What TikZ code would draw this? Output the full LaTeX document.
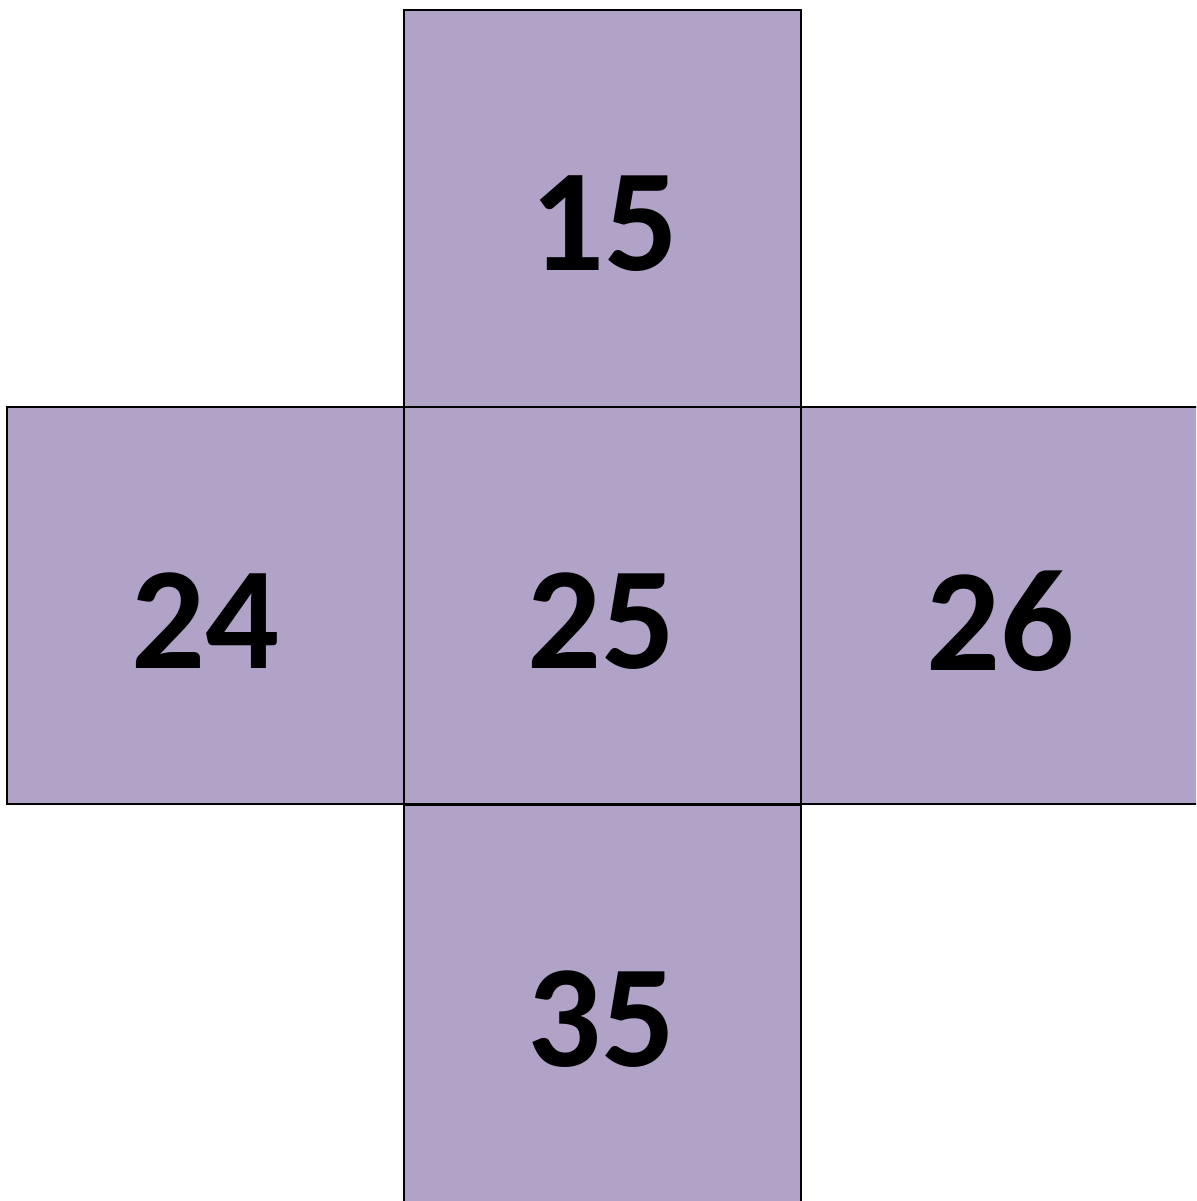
\documentclass[tikz,border=0pt]{standalone}
\usepackage{fontspec}
\setmainfont{Carlito}
\definecolor{lav}{HTML}{B1A2C7}
\begin{document}
\begin{tikzpicture}[x=1pt,y=1pt,
  cell/.style={draw=black,line width=1.6pt,fill=lav,minimum width=397pt,minimum height=397pt,inner sep=0pt,outer sep=0pt},
  num/.style={inner sep=0pt,font=\fontsize{146}{150}\selectfont\bfseries}]
\useasboundingbox (0,0) rectangle (1196,1201);
\clip (0,0) rectangle (1196,1201);
\node[cell] (c15) at (602.5,992.5) {};
\node[cell] (c24) at (205.5,595.5) {};
\node[cell] (c25) at (602.5,595.5) {};
\node[cell] (c26) at (999.5,595.5) {};
\node[cell] (c35) at (602.5,197.5) {};
\node[num] (t15) at (604,977) {15};
\node[num] (t24) at (205,580) {24};
\node[num] (t25) at (601,580) {25};
\node[num] (t26) at (1000,580) {26};
\node[num] (t35) at (601,182) {35};
\end{tikzpicture}
\end{document}
